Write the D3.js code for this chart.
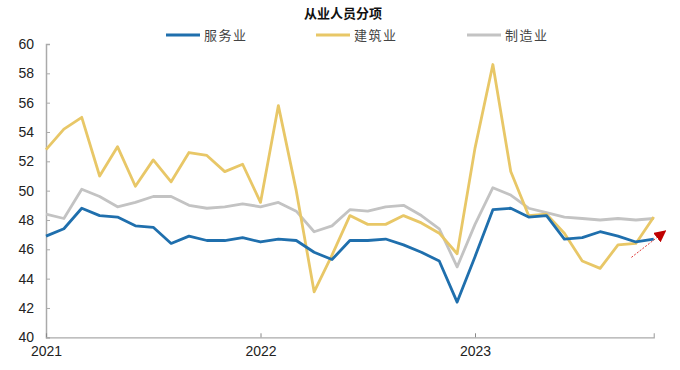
<!DOCTYPE html>
<html>
<head>
<meta charset="utf-8">
<script src="https://cdn.jsdelivr.net/npm/d3@7"></script>
<style>
  body { margin: 0; background: #fff; }
  svg { display: block; }
</style>
</head>
<body>
<div id="chart"></div>
<script>
// monthly, 2021-01 .. 2023-11 (category axis, evenly spaced)
var months = d3.range(35).map(function(i) { return d3.timeFormat('%Y-%m')(new Date(2021, i, 1)); });

var services = [46.9, 47.4, 48.8, 48.3, 48.2, 47.6, 47.5, 46.4, 46.9, 46.6, 46.6, 46.8,
                46.5, 46.7, 46.6, 45.8, 45.3, 46.6, 46.6, 46.7, 46.3, 45.8, 45.2, 42.4,
                45.5, 48.7, 48.8, 48.2, 48.3, 46.7, 46.8, 47.2, 46.9, 46.5, 46.7];
var construction = [52.8, 54.2, 55.0, 51.0, 53.0, 50.3, 52.1, 50.6, 52.6, 52.4, 51.3, 51.8,
                    49.2, 55.8, 50.0, 43.1, 45.6, 48.3, 47.7, 47.7, 48.3, 47.8, 47.1, 45.7,
                    52.9, 58.6, 51.3, 48.3, 48.4, 47.1, 45.2, 44.7, 46.3, 46.4, 48.2];
var manufacturing = [48.4, 48.1, 50.1, 49.6, 48.9, 49.2, 49.6, 49.6, 49.0, 48.8, 48.9, 49.1,
                     48.9, 49.2, 48.6, 47.2, 47.6, 48.7, 48.6, 48.9, 49.0, 48.3, 47.4, 44.8,
                     47.7, 50.2, 49.7, 48.8, 48.5, 48.2, 48.1, 48.0, 48.1, 48.0, 48.1];

var seriesNames = ['服务业', '建筑业', '制造业'];
var seriesColors = ['#1f6fad', '#e8c767', '#c3c3c3'];
var yTicks = [40, 42, 44, 46, 48, 50, 52, 54, 56, 58, 60];
var xTickIdx = [0, 12, 24];
var xTickLabels = ['2021', '2022', '2023'];
// red trend arrow: [month index, value] start and end
var arrowPts = [[32.75, 45.45], [34.65, 47.25]];

var width = 680, height = 370;
var svg = d3.select('#chart').append('svg').attr('width', width).attr('height', height);

var x = d3.scaleLinear().domain([0, months.length - 1]).range([46, 653.75]);
var y = d3.scaleLinear().domain([40, 60]).range([337.3, 44]);

// title
svg.append('text')
  .attr('x', 343).attr('y', 18)
  .attr('text-anchor', 'middle')
  .style('font-family', '"Noto Sans CJK SC"')
  .style('font-weight', 'bold')
  .style('font-size', '13px')
  .attr('fill', '#111')
  .text('从业人员分项');

// legend
var legendX = [166, 316, 467];
seriesNames.forEach(function(name, i) {
  var g = svg.append('g').attr('transform', 'translate(' + legendX[i] + ',35)');
  g.append('line').attr('x1', 0).attr('x2', 34).attr('y1', 0).attr('y2', 0)
    .attr('stroke', seriesColors[i]).attr('stroke-width', 3);
  g.append('text').attr('x', 38).attr('y', 5)
    .style('font-family', '"Noto Sans CJK SC"')
    .style('font-size', '13px')
    .style('letter-spacing', '1.5px')
    .attr('fill', '#444')
    .text(name);
});

// axes
var yAxis = d3.axisLeft(y).tickValues(yTicks).tickSize(-4).tickPadding(12);
var gy = svg.append('g').attr('transform', 'translate(46,0)').call(yAxis);
gy.select('.domain').attr('stroke', '#aaa').attr('stroke-width', 1.5);
gy.selectAll('.tick line').attr('stroke', '#aaa');
gy.selectAll('.tick text')
  .style('font-family', '"Liberation Sans", Arial, sans-serif')
  .style('font-size', '14px').attr('fill', '#222');

var xAxis = d3.axisBottom(x).tickValues(xTickIdx)
  .tickFormat(function(d, i) { return xTickLabels[i]; })
  .tickSize(-4).tickPadding(9);
var gx = svg.append('g').attr('transform', 'translate(0,337.3)').call(xAxis);
gx.select('.domain').attr('stroke', '#aaa').attr('stroke-width', 1.2);
gx.selectAll('.tick line').attr('stroke', '#888');
gx.selectAll('.tick text')
  .style('font-family', '"Liberation Sans", Arial, sans-serif')
  .style('font-size', '14px').attr('fill', '#222');

// lines (gray first, then yellow, then blue on top)
var line = d3.line()
  .x(function(d, i) { return x(i); })
  .y(function(d) { return y(d); });

[[manufacturing, 2], [construction, 1], [services, 0]].forEach(function(s) {
  svg.append('path')
    .datum(s[0])
    .attr('d', line)
    .attr('fill', 'none')
    .attr('stroke', seriesColors[s[1]])
    .attr('stroke-width', 2.8)
    .attr('stroke-linejoin', 'round');
});

// red arrow
var defs = svg.append('defs');
defs.append('marker')
  .attr('id', 'arrowhead')
  .attr('viewBox', '0 0 10 10')
  .attr('refX', 9).attr('refY', 5)
  .attr('markerWidth', 12).attr('markerHeight', 12)
  .attr('markerUnits', 'userSpaceOnUse')
  .attr('orient', 'auto')
  .append('path').attr('d', 'M0,0 L10,5 L0,10 Z').attr('fill', '#c00000');

svg.append('line')
  .attr('x1', x(arrowPts[0][0])).attr('y1', y(arrowPts[0][1]))
  .attr('x2', x(arrowPts[1][0])).attr('y2', y(arrowPts[1][1]))
  .attr('stroke', '#e03a3a')
  .attr('stroke-width', 1)
  .attr('stroke-dasharray', '2,1.5')
  .attr('marker-end', 'url(#arrowhead)');
</script>
</body>
</html>
